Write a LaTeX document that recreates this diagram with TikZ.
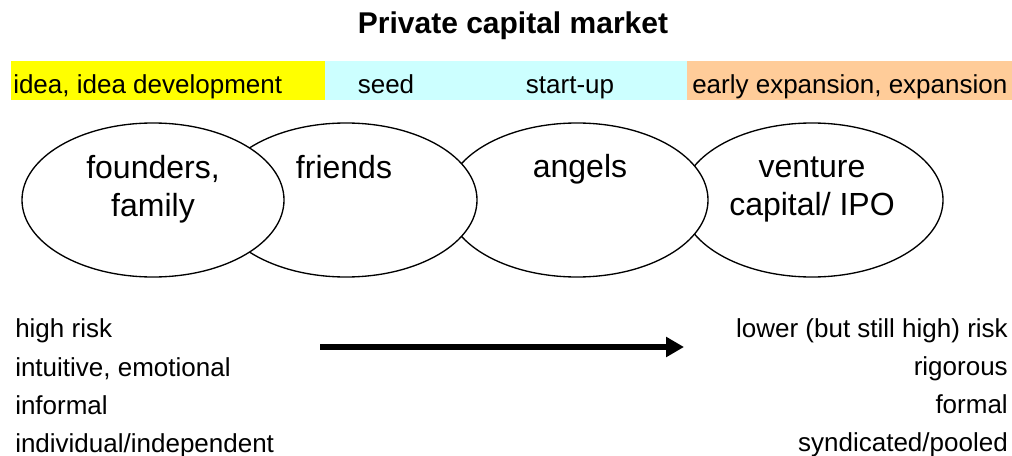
\documentclass[tikz,border=0pt]{standalone}
\usepackage{fontspec}
\setmainfont{Liberation Sans}
\usetikzlibrary{shapes.geometric,arrows.meta}
\definecolor{ideayellow}{HTML}{FFFF00}
\definecolor{seedcyan}{HTML}{CCFFFF}
\definecolor{expandorange}{HTML}{FFCC99}
\begin{document}
\begin{tikzpicture}[x=0.75pt,y=-0.75pt,
  bubble/.style={ellipse,draw=black,fill=white,line width=1pt,
    minimum width=196.5pt,minimum height=115.5pt,inner sep=0pt},
  bubbletext/.style={font=\fontsize{24}{29}\selectfont,inner sep=0pt,anchor=base},
  stagetext/.style={font=\fontsize{19.5}{24}\selectfont,inner sep=0pt},
  traittext/.style={font=\fontsize{19.5}{24}\selectfont,inner sep=0pt}]
\useasboundingbox (0,0) rectangle (1012,456);

% title
\node[font=\bfseries\fontsize{22.5}{27}\selectfont,inner sep=0pt,anchor=base] (title) at (513,34) {Private capital market};

% stage bar
\fill[ideayellow] (11,61) rectangle (325,100);
\fill[seedcyan] (325,61) rectangle (687,100);
\fill[expandorange] (687,61) rectangle (1012,100);
\node[stagetext,anchor=base west] (sIdea) at (13,94) {idea, idea development};
\node[stagetext,anchor=base] (sSeed) at (386,94) {seed};
\node[stagetext,anchor=base] (sStart) at (570,94) {start-up};
\node[stagetext,anchor=base west] (sExp) at (692,94) {early expansion, expansion};

% overlapping investor bubbles (right one first so the left ones sit on top)
\node[bubble] (venture) at (812,200) {};
\node[bubble] (angels) at (577,200) {};
\node[bubble] (friends) at (346,200) {};
\node[bubble] (founders) at (153,200) {};

\node[bubbletext] (tFounders1) at (153,178) {founders,};
\node[bubbletext] (tFounders2) at (153,216) {family};
\node[bubbletext] (tFriends) at (344,178) {friends};
\node[bubbletext] (tAngels) at (580,177) {angels};
\node[bubbletext] (tVenture1) at (812,177) {venture};
\node[bubbletext] (tVenture2) at (812,215) {capital/ IPO};

% characteristics, left and right
\node[traittext,anchor=base west] (l1) at (15,337) {high risk};
\node[traittext,anchor=base west] (l2) at (15,376) {intuitive, emotional};
\node[traittext,anchor=base west] (l3) at (15,414) {informal};
\node[traittext,anchor=base west] (l4) at (15,452) {individual/independent};

\node[traittext,anchor=base east] (r1) at (1008,337) {lower (but still high) risk};
\node[traittext,anchor=base east] (r2) at (1008,375) {rigorous};
\node[traittext,anchor=base east] (r3) at (1008,413) {formal};
\node[traittext,anchor=base east] (r4) at (1008,451) {syndicated/pooled};

% trend arrow
\coordinate (arrowStart) at (320,347);
\coordinate (arrowEnd) at (684,347);
\draw[line width=5.2pt,-{Triangle[length=13.5pt,width=14.5pt]}] (arrowStart) -- (arrowEnd);
\end{tikzpicture}
\end{document}
